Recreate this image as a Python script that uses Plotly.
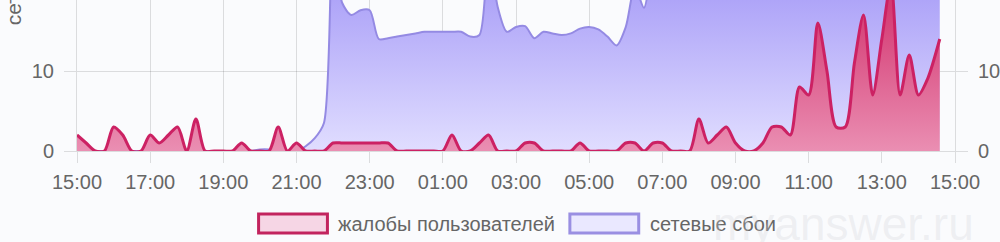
import pandas as pd
import plotly.graph_objects as go

# ---- data ----
start_time = "2024-01-01 15:00"
regular_points = 94          # 15:00 .. 14:15 next day, every 15 min
last_time = "2024-01-02 14:35"

complaints = [2, 1, 0, 0, 3, 2, 0, 0, 2, 1, 2, 3, 0, 4, 0, 0,
              0, 0, 1, 0, 0, 0, 3, 0, 1, 0, 0, 0, 1, 1, 1, 1,
              1, 1, 1, 0, 0, 0, 0, 0, 0, 2, 0, 0, 1, 2, 0, 0,
              0, 1, 1, 0, 0, 0, 0, 1, 0, 0, 0, 0, 1, 1, 0, 1,
              1, 0, 0, 0, 4, 1, 2, 3, 1, 0, 0, 1, 3, 3, 2, 8,
              7, 16, 10, 3, 3, 11, 17, 7, 14, 21, 7, 12, 7, 9, 14]

failures = [0, 0, 0, 0, 0, 0, 0, 0, 0, 0, 0, 0, 0, 0, 0, 0,
            0, 0, 0, 0, 0.2, 0.2, 0, 0, 0, 0.6, 1.6, 3.5, 26, 18.5, 17, 17.6,
            17.6, 14, 14.1, 14.3, 14.5, 14.7, 14.9, 14.9, 14.9, 14.9, 14.9, 14.3, 14.5, 25, 18, 14.9,
            15.5, 15.6, 14.1, 14.9, 14.7, 14.5, 14.7, 15.3, 15.5, 15.2, 14.3, 13.2, 15.5, 20.5, 17.9, 23,
            24, 26, 27, 25, 28, 30, 29, 27, 26, 28, 30, 31, 29, 28, 30, 32,
            31, 33, 30, 29, 31, 32, 30, 33, 31, 30, 32, 31, 29, 30, 31]

series_names = ["жалобы пользователей", "сетевые сбои"]
axis_title = "сетевые сбои"
y_ticks = [0, 10]
x_start = "2024-01-01 15:00"
x_end = "2024-01-02 15:00"
watermark = "myanswer.ru"

times = list(pd.date_range(start_time, periods=regular_points, freq="15min")) + [pd.Timestamp(last_time)]

# ---- styling ----
W, H = 1000, 242
L, R, B, T = 77, 43, 91, 0
plot_w = W - L - R
plot_h = H - T - B
y_top = plot_h / 8.0          # 8 px per unit
FONT = "Arial, 'Liberation Sans', sans-serif"
GRID = "rgba(0,0,0,0.12)"
TXT = "#666666"

def px_x(p):
    return (p - L) / plot_w

def px_y(p):
    return ((T + plot_h) - p) / plot_h

fig = go.Figure()

fig.add_trace(go.Scatter(
    x=times, y=failures, name=series_names[1], mode="lines",
    line=dict(color="#948ae3", width=2, shape="spline", smoothing=0.8),
    fill="tozeroy",
    fillgradient=dict(type="vertical", start=0, stop=19,
                      colorscale=[[0, "rgb(224,221,255)"], [1, "rgb(174,164,248)"]]),
    yaxis="y", showlegend=False, hoverinfo="skip"))

fig.add_trace(go.Scatter(
    x=times, y=complaints, name=series_names[0], mode="lines",
    line=dict(color="#cc2163", width=3, shape="spline", smoothing=0.8),
    fill="tozeroy",
    fillgradient=dict(type="vertical", start=0, stop=18,
                      colorscale=[[0, "rgb(234,142,178)"], [1, "rgb(212,58,115)"]]),
    yaxis="y2", showlegend=False, hoverinfo="skip"))

axis_common = dict(range=[0, y_top], tickvals=y_ticks, ticks="outside", ticklen=12,
                   tickcolor=GRID, showline=True, linecolor=GRID, linewidth=1,
                   zeroline=False, tickfont=dict(family=FONT, size=20, color=TXT),
                   fixedrange=True)

fig.update_layout(
    width=W, height=H,
    margin=dict(l=L, r=R, t=T, b=B, pad=0),
    paper_bgcolor="#fafbfd", plot_bgcolor="#fafbfd",
    showlegend=False,
    xaxis=dict(type="date", range=[x_start, x_end], tick0=x_start, dtick=2 * 3600 * 1000,
               tickformat="%H:%M", showgrid=True, gridcolor=GRID, ticks="outside",
               ticklen=11, tickcolor=GRID, showline=True, linecolor=GRID,
               zeroline=False, tickfont=dict(family=FONT, size=20, color=TXT),
               ticklabelstandoff=2),
    yaxis=dict(side="left", showgrid=True, gridcolor=GRID, ticklabelstandoff=6, **axis_common),
    yaxis2=dict(side="right", overlaying="y", showgrid=False, ticklabelstandoff=6, **axis_common),
)

# axis title (top part cropped in the reference)
fig.add_annotation(text=axis_title, textangle=-90, xref="paper", yref="paper",
                   x=px_x(13), y=px_y(27), xanchor="center", yanchor="bottom",
                   showarrow=False, font=dict(family=FONT, size=21, color=TXT))

# custom legend
legend_items = [
    (series_names[0], 259, 328, "rgb(246,214,229)", "#c2245e"),
    (series_names[1], 571, 640, "rgb(234,232,255)", "#9a8fe2"),
]
for name, x0, x1, fillc, linec in legend_items:
    fig.add_shape(type="rect", xref="paper", yref="paper",
                  x0=px_x(x0), x1=px_x(x1), y0=px_y(233), y1=px_y(214),
                  fillcolor=fillc, line=dict(color=linec, width=3))
    fig.add_annotation(text=name, xref="paper", yref="paper",
                       x=px_x(x1 + 9), y=px_y(223.5), xanchor="left", yanchor="middle",
                       showarrow=False, font=dict(family=FONT, size=20, color=TXT))

# faint watermark
fig.add_annotation(text=watermark, xref="paper", yref="paper",
                   x=px_x(845), y=px_y(224), xanchor="center", yanchor="middle",
                   showarrow=False, font=dict(family=FONT, size=46, color="rgba(210,210,216,0.3)"))

fig.write_html("out.html")
